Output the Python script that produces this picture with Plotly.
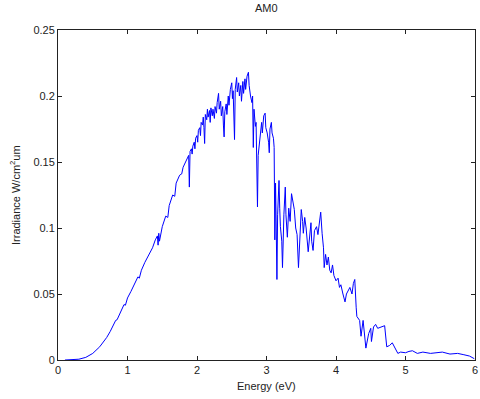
import plotly.graph_objects as go

energy = [0.10, 0.20, 0.30, 0.40, 0.50, 0.60, 0.65, 0.70, 0.75, 0.80,
          0.83, 0.85, 0.90, 0.95, 0.97, 1.00, 1.05, 1.10, 1.15, 1.17,
          1.20, 1.25, 1.30, 1.33, 1.36, 1.40, 1.43, 1.44, 1.45, 1.46,
          1.50, 1.55, 1.58, 1.60, 1.65, 1.68, 1.70, 1.75, 1.78, 1.80,
          1.85, 1.88, 1.89, 1.90,
          1.92, 1.93, 1.94, 1.96, 1.97, 1.98, 2.00, 2.01, 2.02, 2.04,
          2.05, 2.06, 2.08, 2.09, 2.10, 2.11, 2.12, 2.14, 2.15, 2.16,
          2.18, 2.19, 2.20, 2.22, 2.23, 2.25, 2.26, 2.28, 2.29, 2.31,
          2.32, 2.34, 2.35, 2.37, 2.38, 2.39, 2.40, 2.42, 2.43, 2.45,
          2.46, 2.48, 2.50, 2.51, 2.52, 2.54, 2.55, 2.57, 2.58, 2.60,
          2.61, 2.63, 2.64, 2.66, 2.67, 2.69, 2.70, 2.72, 2.74, 2.75,
          2.77, 2.79, 2.80, 2.81, 2.82, 2.84, 2.85, 2.87, 2.88, 2.89,
          2.91, 2.93, 2.94, 2.96, 2.98, 2.99, 3.01, 3.03, 3.04, 3.05,
          3.07, 3.08, 3.10, 3.11, 3.12, 3.13, 3.14, 3.15, 3.16, 3.18,
          3.19, 3.20, 3.22, 3.23, 3.25, 3.27, 3.28, 3.30, 3.32, 3.34,
          3.36, 3.38, 3.40, 3.42, 3.44, 3.46, 3.48, 3.50, 3.52, 3.53,
          3.55, 3.57, 3.60, 3.62, 3.64, 3.65, 3.67, 3.69, 3.72, 3.74,
          3.77, 3.78, 3.80, 3.82, 3.83, 3.85, 3.87, 3.89, 3.91, 3.93,
          3.95, 3.97, 4.00, 4.03, 4.05, 4.07, 4.10, 4.13, 4.15, 4.18,
          4.20, 4.23, 4.25, 4.27, 4.28, 4.29, 4.30, 4.34, 4.36, 4.39,
          4.43, 4.47, 4.50, 4.51, 4.54, 4.57, 4.60, 4.65, 4.70, 4.73,
          4.77, 4.81, 4.85, 4.89, 4.93, 4.96, 5.00, 5.05, 5.10, 5.17,
          5.25, 5.36, 5.45, 5.53, 5.64, 5.75, 5.84, 5.92, 5.99]

irradiance = [0.0000, 0.0003, 0.0006, 0.0020, 0.0050, 0.0100, 0.0135, 0.0170, 0.0215, 0.0265,
              0.0300, 0.0305, 0.0370, 0.0420, 0.0415, 0.0470, 0.0520, 0.0570, 0.0630, 0.0620,
              0.0680, 0.0740, 0.0790, 0.0810, 0.0850, 0.0910, 0.0940, 0.0870, 0.0960, 0.0900,
              0.1010, 0.1090, 0.1080, 0.1170, 0.1250, 0.1240, 0.1340, 0.1400, 0.1410, 0.1460,
              0.1520, 0.1550, 0.1310, 0.1580,
              0.1600, 0.1560, 0.1620, 0.1650, 0.1600, 0.1680, 0.1700, 0.1650, 0.1740, 0.1760,
              0.1700, 0.1800, 0.1780, 0.1840, 0.1760, 0.1640, 0.1860, 0.1820, 0.1900, 0.1840,
              0.1890, 0.1800, 0.1910, 0.1850, 0.1900, 0.1830, 0.1920, 0.1870, 0.1950, 0.2020,
              0.1900, 0.1960, 0.1850, 0.1920, 0.1780, 0.1690, 0.1880, 0.1940, 0.1860, 0.2000,
              0.1930, 0.2050, 0.2100, 0.1980, 0.2040, 0.1670, 0.2050, 0.2140, 0.2030, 0.2100,
              0.2000, 0.2080, 0.1960, 0.2110, 0.2020, 0.2130, 0.2050, 0.2150, 0.2180, 0.2080,
              0.2000, 0.1950, 0.2000, 0.1610, 0.1900, 0.1770, 0.1800, 0.1160, 0.1550, 0.1600,
              0.1700, 0.1800, 0.1720, 0.1850, 0.1870, 0.1760, 0.1720, 0.1650, 0.1570, 0.1750,
              0.1800, 0.1720, 0.1680, 0.1610, 0.0910, 0.1340, 0.1000, 0.0610, 0.1100, 0.1360,
              0.1150, 0.1010, 0.0900, 0.0700, 0.1100, 0.1310, 0.1100, 0.0930, 0.1150, 0.1050,
              0.1260, 0.1180, 0.1140, 0.1000, 0.0950, 0.0700, 0.1000, 0.1140, 0.1050, 0.0960,
              0.1080, 0.1000, 0.0820, 0.0950, 0.1040, 0.0900, 0.0830, 0.0980, 0.1010, 0.0950,
              0.1080, 0.1120, 0.0960, 0.0850, 0.0700, 0.0800, 0.0720, 0.0780, 0.0680, 0.0660,
              0.0720, 0.0640, 0.0600, 0.0620, 0.0550, 0.0570, 0.0500, 0.0440, 0.0500, 0.0530,
              0.0550, 0.0500, 0.0580, 0.0610, 0.0450, 0.0400, 0.0330, 0.0300, 0.0180, 0.0300,
              0.0090, 0.0200, 0.0240, 0.0140, 0.0250, 0.0270, 0.0240, 0.0250, 0.0260, 0.0100,
              0.0110, 0.0130, 0.0090, 0.0050, 0.0060, 0.0060, 0.0055, 0.0065, 0.0070, 0.0050,
              0.0060, 0.0050, 0.0055, 0.0060, 0.0045, 0.0050, 0.0040, 0.0030, 0.0010]

x_ticks = [0, 1, 2, 3, 4, 5, 6]
y_ticks = [0, 0.05, 0.1, 0.15, 0.2, 0.25]
y_tick_text = ["0", "0.05", "0.1", "0.15", "0.2", "0.25"]

fig = go.Figure()
fig.add_trace(go.Scatter(x=energy, y=irradiance, mode="lines",
                         line=dict(color="#0000FF", width=1), showlegend=False))

font = dict(family="Liberation Sans, Arial, sans-serif", size=11, color="#222222")
axis_common = dict(showgrid=False, zeroline=False, showline=True, linecolor="#222222",
                   linewidth=1, mirror="ticks", ticks="inside", ticklen=4,
                   tickcolor="#222222", tickfont=font)

fig.update_layout(
    width=480, height=399,
    margin=dict(l=58, r=2, t=30, b=39),
    paper_bgcolor="white", plot_bgcolor="white",
    font=font,
    xaxis=dict(range=[0, 6], tickvals=x_ticks, ticklabeloverflow="allow", **axis_common),
    yaxis=dict(range=[0, 0.25], tickvals=y_ticks, ticktext=y_tick_text, **axis_common),
    annotations=[
        dict(text="AM0", x=0.5, y=1, xref="paper", yref="paper", yshift=22,
             showarrow=False, font=font, xanchor="center", yanchor="middle"),
        dict(text="Energy (eV)", x=0.5, y=0, xref="paper", yref="paper", yshift=-26,
             showarrow=False, font=font, xanchor="center", yanchor="middle"),
        dict(text="Irradiance W/cm<sup>2</sup>um", x=0, y=0.5, xref="paper", yref="paper",
             xshift=-43, textangle=-90, showarrow=False, font=font,
             xanchor="center", yanchor="middle"),
    ],
)

# remove the browser's default 8px body margin so the figure fills the window exactly
fig.write_html("out.html", config={"displayModeBar": False},
               post_script="document.body.style.margin='0';document.body.style.overflow='hidden';")
